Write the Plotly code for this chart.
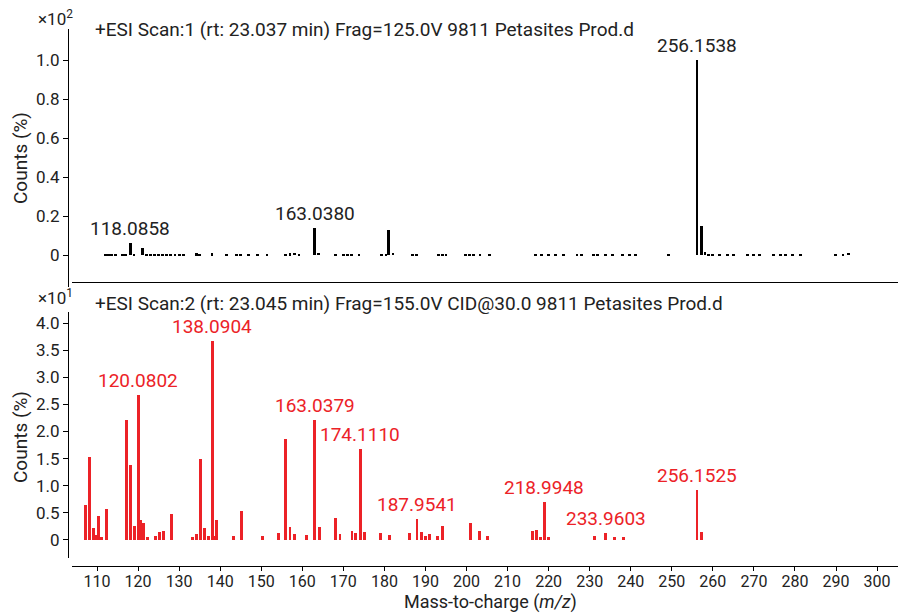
import plotly.graph_objects as go

# ---------------- data ----------------
# Top spectrum (Scan 1), relative counts x10^2
top_mz = [112.0, 112.7, 113.5, 114.5, 116.2, 117.0, 118.09, 119.0, 121.06,
          122, 123, 124, 125, 126, 127, 128, 129, 130, 131,
          134.2, 135.0, 138.0, 141.6, 144.0, 145.0, 146.8, 149.0, 151.4,
          156.0, 157.0, 158.2, 159.2, 163.04, 164.0,
          168.0, 170.0, 171.0, 172.0, 173.8, 179.2, 180.4, 181.1, 182.1,
          186.9, 187.9, 193.2, 194.2, 195.0, 199.8, 200.8, 201.6, 203.3, 205.7,
          216.7, 218.3, 219.9, 221.6, 223.6, 226.9, 228.1, 230.9, 232.0,
          233.8, 235.5, 238.0, 239.6, 241.1, 249.3,
          256.15, 257.15, 258.1, 259.0, 260.0, 261.6, 263.6, 265.0,
          268.5, 269.8, 271.4, 274.7, 276.4, 277.6, 279.5, 281.3,
          289.8, 291.7, 293.0]
top_int = [0.005, 0.005, 0.005, 0.005, 0.005, 0.006, 0.06, 0.006, 0.035,
           0.005, 0.005, 0.005, 0.005, 0.005, 0.005, 0.005, 0.005, 0.005, 0.005,
           0.008, 0.006, 0.008, 0.005, 0.005, 0.005, 0.005, 0.005, 0.005,
           0.006, 0.008, 0.011, 0.006, 0.14, 0.012,
           0.005, 0.005, 0.005, 0.005, 0.005, 0.005, 0.006, 0.13, 0.012,
           0.005, 0.005, 0.005, 0.005, 0.005, 0.005, 0.005, 0.005, 0.005, 0.005,
           0.005, 0.005, 0.005, 0.005, 0.005, 0.005, 0.005, 0.005, 0.005,
           0.005, 0.005, 0.005, 0.005, 0.005, 0.005,
           1.0, 0.15, 0.015, 0.006, 0.005, 0.005, 0.005, 0.005,
           0.005, 0.005, 0.005, 0.005, 0.005, 0.005, 0.005, 0.005,
           0.005, 0.005, 0.012]

# Bottom spectrum (Scan 2, CID@30), relative counts x10^1
bot_mz = [107.2, 108.1, 109.1, 109.9, 110.3, 111.0, 112.4,
          117.1, 118.1, 119.1, 120.08, 120.7, 121.4, 122.3,
          124.2, 125.2, 126.2, 128.1,
          133.2, 134.2, 135.2, 136.1, 137.1, 138.09, 138.6, 139.1,
          143.2, 145.1, 150.3, 154.2, 156.0, 157.0, 158.0, 161.0,
          163.04, 164.2, 168.1, 169.2, 172.1, 172.9, 174.11, 175.1,
          179.0, 181.2, 186.1, 187.95, 189.0, 190.0, 191.0, 192.9, 194.1,
          200.9, 203.1, 205.1,
          216.0, 217.1, 218.0, 218.99, 219.9,
          231.1, 233.96, 236.0, 238.2,
          256.15, 257.2]
bot_int = [0.65, 1.53, 0.22, 0.09, 0.44, 0.055, 0.57,
           2.22, 1.39, 0.25, 2.67, 0.37, 0.32, 0.06,
           0.08, 0.15, 0.17, 0.48,
           0.06, 0.11, 1.49, 0.22, 0.07, 3.67, 0.07, 0.37,
           0.07, 0.53, 0.07, 0.13, 1.87, 0.24, 0.11, 0.09,
           2.22, 0.24, 0.41, 0.11, 0.17, 0.13, 1.68, 0.15,
           0.13, 0.09, 0.13, 0.39, 0.15, 0.07, 0.11, 0.07, 0.26,
           0.31, 0.17, 0.07,
           0.16, 0.19, 0.06, 0.70, 0.06,
           0.08, 0.12, 0.05, 0.05,
           0.92, 0.15]

top_labels = ["118.0858", "163.0380", "256.1538"]
top_label_mz = [118.09, 163.04, 256.15]
top_label_int = [0.06, 0.14, 1.0]

bot_labels = ["120.0802", "138.0904", "163.0379", "174.1110", "187.9541",
              "218.9948", "233.9603", "256.1525"]
bot_label_mz = [120.08, 138.09, 163.04, 174.11, 187.95, 218.99, 233.96, 256.15]
bot_label_int = [2.67, 3.67, 2.22, 1.68, 0.39, 0.70, 0.12, 0.92]

x_ticks = list(range(110, 301, 10))
top_yticks = [0, 0.2, 0.4, 0.6, 0.8, 1.0]
top_yticktext = ["0", "0.2", "0.4", "0.6", "0.8", "1.0"]
bot_yticks = [0, 0.5, 1.0, 1.5, 2.0, 2.5, 3.0, 3.5, 4.0]
bot_yticktext = ["0", "0.5", "1.0", "1.5", "2.0", "2.5", "3.0", "3.5", "4.0"]

top_title = "+ESI Scan:1 (rt: 23.037 min) Frag=125.0V 9811 Petasites Prod.d"
bot_title = "+ESI Scan:2 (rt: 23.045 min) Frag=155.0V CID@30.0 9811 Petasites Prod.d"

# ---------------- figure ----------------
W, H = 898, 614
L = 68
RED = "#EC2227"
TXT = "#222222"
FONT = "Roboto"

def py(pix):
    return 1 - pix / H

def px(pix):
    return (pix - L) / (W - L)

fig = go.Figure()
fig.add_trace(go.Bar(x=top_mz, y=top_int, width=0.7, marker=dict(color="#000000", line_width=0),
                     xaxis="x2", yaxis="y", showlegend=False, hoverinfo="x+y"))
fig.add_trace(go.Bar(x=bot_mz, y=bot_int, width=0.7, marker=dict(color=RED, line_width=0),
                     xaxis="x", yaxis="y2", showlegend=False, hoverinfo="x+y"))

annotations = []
for t, xm, yv in zip(top_labels, top_label_mz, top_label_int):
    annotations.append(dict(x=xm, y=yv, xref="x2", yref="y", text=t, showarrow=False,
                            yanchor="bottom", yshift=2, borderpad=0,
                            font=dict(family=FONT, size=19, color=TXT)))
for t, xm, yv in zip(bot_labels, bot_label_mz, bot_label_int):
    annotations.append(dict(x=xm, y=yv, xref="x", yref="y2", text=t, showarrow=False,
                            yanchor="bottom", yshift=2, borderpad=0,
                            font=dict(family=FONT, size=19, color=RED)))

# panel titles
annotations.append(dict(x=px(94), y=py(29), xref="paper", yref="paper", text=top_title,
                        showarrow=False, xanchor="left", yanchor="middle", borderpad=0,
                        font=dict(family=FONT, size=19, color=TXT)))
annotations.append(dict(x=px(94), y=py(303), xref="paper", yref="paper", text=bot_title,
                        showarrow=False, xanchor="left", yanchor="middle", borderpad=0,
                        font=dict(family=FONT, size=19, color=TXT)))
# exponents
annotations.append(dict(x=px(55), y=py(18), xref="paper", yref="paper", text="×10<sup>2</sup>",
                        showarrow=False, xanchor="center", yanchor="middle",
                        font=dict(family=FONT, size=17, color=TXT)))
annotations.append(dict(x=px(55), y=py(297), xref="paper", yref="paper", text="×10<sup>1</sup>",
                        showarrow=False, xanchor="center", yanchor="middle",
                        font=dict(family=FONT, size=17, color=TXT)))
# axis titles
annotations.append(dict(x=px(20), y=py(158), xref="paper", yref="paper", text="Counts (%)",
                        textangle=-90, showarrow=False, xanchor="center", yanchor="middle",
                        font=dict(family=FONT, size=19, color=TXT)))
annotations.append(dict(x=px(20), y=py(437), xref="paper", yref="paper", text="Counts (%)",
                        textangle=-90, showarrow=False, xanchor="center", yanchor="middle",
                        font=dict(family=FONT, size=19, color=TXT)))
annotations.append(dict(x=px(490), y=0.0, xref="paper", yref="paper",
                        text="Mass-to-charge (<i>m/z</i>)", borderpad=0,
                        showarrow=False, xanchor="center", yanchor="bottom",
                        font=dict(family=FONT, size=18, color=TXT)))

xdom = [px(72), 1.0]
axis_common = dict(showgrid=False, zeroline=False, showline=True, linecolor="#000000", linewidth=1,
                   ticks="outside", tickcolor="#000000", tickwidth=1)

fig.update_layout(
    width=W, height=H,
    margin=dict(l=L, r=0, t=0, b=0),
    paper_bgcolor="white", plot_bgcolor="white",
    bargap=0, barmode="overlay",
    annotations=annotations,
    xaxis=dict(domain=xdom, anchor="free", position=py(566), range=[103.91, 305.1],
               tickvals=x_ticks, ticklen=4, ticklabelstandoff=-3,
               tickfont=dict(family=FONT, size=16, color=TXT),
               **axis_common),
    xaxis2=dict(domain=xdom, anchor="free", position=py(282), matches="x",
                showline=True, linecolor="#000000", linewidth=1, showgrid=False, zeroline=False,
                showticklabels=False, ticks=""),
    yaxis=dict(domain=[py(287), py(29)], anchor="free", position=0, range=[-0.164, 1.159],
               tickvals=top_yticks, ticktext=top_yticktext, ticklen=5,
               tickfont=dict(family=FONT, size=17, color=TXT), **axis_common),
    yaxis2=dict(domain=[py(558), py(312)], anchor="free", position=0, range=[-0.333, 4.204],
                tickvals=bot_yticks, ticktext=bot_yticktext, ticklen=5,
                tickfont=dict(family=FONT, size=17, color=TXT), **axis_common),
)

fig.write_html("out.html")
